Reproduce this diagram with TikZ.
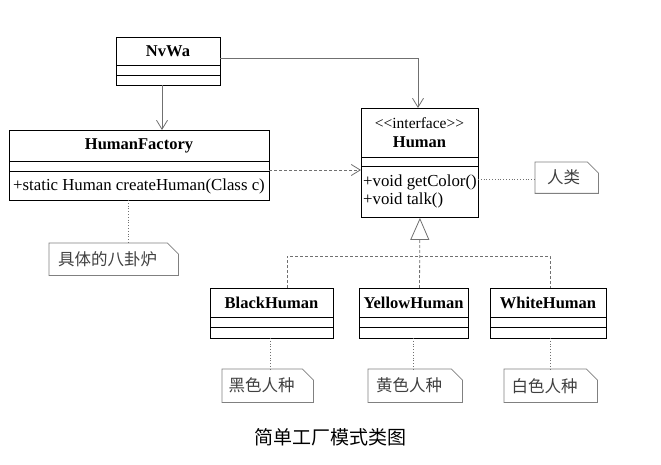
\documentclass[tikz,border=0pt]{standalone}
\usepackage{fontspec}
\setmainfont{Liberation Serif}
\newfontfamily\cjk{Noto Sans CJK SC}
\usetikzlibrary{arrows.meta}
\definecolor{conn}{HTML}{707070}
\definecolor{notec}{HTML}{808080}
\definecolor{notet}{HTML}{404040}
\begin{document}
\begin{tikzpicture}[x=1pt,y=-1pt,
  box/.style={draw=black,line width=0.9pt,anchor=north west,inner sep=0pt},
  ttl/.style={font=\fontsize{16.5}{18}\selectfont\bfseries,inner sep=0pt},
  mth/.style={font=\fontsize{16.8}{18}\selectfont,inner sep=0pt,anchor=west},
  ster/.style={font=\fontsize{15.5}{17}\selectfont,inner sep=0pt},
  notebox/.style={anchor=north west,inner sep=0pt,font=\cjk\fontsize{16.5}{18}\selectfont,text=notet},
  notedraw/.style={draw=notec,line width=0.8pt},
  assoc/.style={draw=conn,line width=0.8pt,-{Straight Barb[length=9pt,width=11pt]}},
  dep/.style={assoc,dash pattern=on 3pt off 2pt},
  realize/.style={draw=conn,line width=0.8pt,dash pattern=on 3pt off 2pt},
  anchorline/.style={draw=conn,line width=0.8pt,dotted},
  cline/.style={draw=black,line width=0.9pt}]
\useasboundingbox (0,0) rectangle (661,465);

% NvWa
\node[box,minimum width=104pt,minimum height=48pt] (nvwa) at (116,37) {};
\node[ttl] (nvwat) at (168,51) {NvWa};
\draw[cline] (116,65) -- (220,65) (116,75) -- (220,75);

% HumanFactory
\node[box,minimum width=260pt,minimum height=70pt] (hf) at (9,130) {};
\node[ttl] (hft) at (139,145.5) {HumanFactory};
\draw[cline] (9,161) -- (269,161) (9,171) -- (269,171);
\node[mth] (hfm) at (13,186) {+static Human createHuman(Class c)};

% Human interface
\node[box,minimum width=117pt,minimum height=109pt] (human) at (361,108) {};
\node[ster] (humans) at (419.5,123) {{<}{<}interface{>}{>}};
\node[ttl] (humant) at (419.5,142.5) {Human};
\draw[cline] (361,157) -- (478,157) (361,166) -- (478,166);
\node[mth] (hm1) at (363,182) {+void getColor()};
\node[mth] (hm2) at (363,200) {+void talk()};

% Concrete classes
\node[box,minimum width=123pt,minimum height=50pt] (bh) at (210,288) {};
\node[ttl] (bht) at (271.5,302.5) {BlackHuman};
\draw[cline] (210,317) -- (333,317) (210,327) -- (333,327);
\node[box,minimum width=109pt,minimum height=50pt] (yh) at (359,288) {};
\node[ttl] (yht) at (413.5,302.5) {YellowHuman};
\draw[cline] (359,317) -- (468,317) (359,327) -- (468,327);
\node[box,minimum width=116pt,minimum height=50pt] (wh) at (490,288) {};
\node[ttl] (wht) at (548,302.5) {WhiteHuman};
\draw[cline] (490,317) -- (606,317) (490,327) -- (606,327);

% Notes
\node[notebox,minimum width=63pt,minimum height=31pt] (nrl) at (535,162) {\hspace*{-6pt}人类};
\node[notebox,minimum width=129pt,minimum height=32pt] (nhf) at (49,243) {\hspace*{-12pt}具体的八卦炉};
\node[notebox,minimum width=91pt,minimum height=33pt] (nbh) at (222,369) {\hspace*{-12pt}黑色人种};
\node[notebox,minimum width=94pt,minimum height=33pt] (nyh) at (368,369) {\hspace*{-12pt}黄色人种};
\node[notebox,minimum width=93pt,minimum height=33pt] (nwh) at (504,369) {\hspace*{-12pt}白色人种};
\foreach \n in {nrl,nhf,nbh,nyh,nwh}{
  \draw[notedraw] (\n.north west) -- ([xshift=-11pt]\n.north east) -- ([yshift=-11pt]\n.north east) -- (\n.south east) -- (\n.south west) -- cycle;
}

% Associations
\coordinate (nvb) at (162,85);
\coordinate (hft2) at (162,130);
\draw[assoc] (nvb) -- (hft2);
\coordinate (nvr) at (220,58);
\coordinate (hut) at (418,108);
\draw[assoc] (nvr) -| (hut);
\coordinate (hfr) at (269,170);
\coordinate (hul) at (361,170);
\draw[dep] (hfr) -- (hul);

% Realization
\coordinate (bhtop) at (287,288);
\coordinate (whtop) at (550,288);
\coordinate (yhtop) at (419.5,288);
\coordinate (junc) at (419.5,256);
\draw[realize,-{Triangle[open,length=22pt,width=19pt]}] (yhtop) -- (human.south);
\draw[realize] (bhtop) |- (junc) -| (whtop);

% Note anchors
\coordinate (hfa) at (128,200);
\draw[anchorline] (hfa) -- (hfa |- nhf.north);
\coordinate (hua) at (478,179);
\draw[anchorline] (hua) -- (hua -| nrl.west);
\coordinate (bha) at (270,338);
\draw[anchorline] (bha) -- (bha |- nbh.north);
\coordinate (yha) at (413,338);
\draw[anchorline] (yha) -- (yha |- nyh.north);
\coordinate (wha) at (550,338);
\draw[anchorline] (wha) -- (wha |- nwh.north);

% Caption
\node[font=\cjk\fontsize{19}{21}\selectfont,inner sep=0pt] (cap) at (330,437) {简单工厂模式类图};
\end{tikzpicture}
\end{document}
